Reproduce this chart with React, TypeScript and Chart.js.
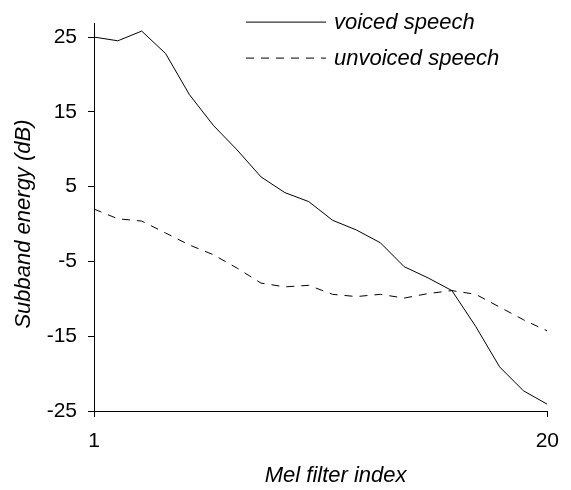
import React, { useEffect, useRef } from "react";
import { Chart, registerables } from "chart.js";

Chart.register(...registerables);

const filterIndex = [1, 2, 3, 4, 5, 6, 7, 8, 9, 10, 11, 12, 13, 14, 15, 16, 17, 18, 19, 20];
const voiced = [25.0, 24.5, 25.8, 22.8, 17.3, 13.2, 9.9, 6.3, 4.2, 3.0, 0.5, -0.8, -2.5, -5.7, -7.2, -8.9, -13.7, -19.1, -22.3, -24.1];
const unvoiced = [2.0, 0.7, 0.4, -1.2, -2.8, -4.1, -5.9, -7.9, -8.4, -8.2, -9.4, -9.7, -9.4, -9.9, -9.3, -8.9, -9.4, -11.1, -12.8, -14.3];
const yTicks = [-25, -15, -5, 5, 15, 25];
const xTicks = [1, 20];
const seriesLabels = ["voiced speech", "unvoiced speech"];
const xTitle = "Mel filter index";
const yTitle = "Subband energy (dB)";

const FONT = "'Liberation Sans', Arial, sans-serif";

const annotationPlugin = {
  id: "legendAndTitles",
  afterDraw(chart: any) {
    const { ctx, chartArea, scales } = chart;
    // legend
    const x0 = chartArea.left + 152;
    const x1 = chartArea.left + 232;
    const tx = chartArea.left + 240;
    const rows = [chartArea.top - 2, chartArea.top + 34];
    chart.data.datasets.forEach((ds: any, i: number) => {
      const y = rows[i];
      ctx.save();
      ctx.strokeStyle = "#000";
      ctx.lineWidth = 1;
      ctx.setLineDash(ds.borderDash || []);
      ctx.beginPath();
      ctx.moveTo(x0, y + 0.5);
      ctx.lineTo(x1, y + 0.5);
      ctx.stroke();
      ctx.setLineDash([]);
      ctx.fillStyle = "#000";
      ctx.font = `italic 22px ${FONT}`;
      ctx.textBaseline = "middle";
      ctx.textAlign = "left";
      ctx.fillText(ds.label, tx, y + 1);
      ctx.restore();
    });
    // axis titles
    ctx.save();
    ctx.fillStyle = "#000";
    ctx.font = `italic 22px ${FONT}`;
    ctx.textAlign = "center";
    ctx.textBaseline = "middle";
    const xc = (chartArea.left + chartArea.right) / 2 + 15;
    ctx.fillText(xTitle, xc, chartArea.bottom + 65);
    const yc = (scales.y.getPixelForValue(yTicks[0]) + scales.y.getPixelForValue(yTicks[yTicks.length - 1])) / 2;
    ctx.translate(24, yc);
    ctx.rotate(-Math.PI / 2);
    ctx.fillText(yTitle, 0, 0);
    ctx.restore();
  },
};

export default function App() {
  const ref = useRef<HTMLCanvasElement>(null);
  useEffect(() => {
    document.body.style.margin = "0";
    const chart = new Chart(ref.current!, {
      type: "line",
      data: {
        datasets: [
          {
            label: seriesLabels[0],
            data: filterIndex.map((x, i) => ({ x, y: voiced[i] })),
            borderColor: "#000",
            borderWidth: 1,
            pointRadius: 0,
            tension: 0,
            fill: false,
          },
          {
            label: seriesLabels[1],
            data: filterIndex.map((x, i) => ({ x, y: unvoiced[i] })),
            borderColor: "#000",
            borderWidth: 1,
            borderDash: [8, 7],
            pointRadius: 0,
            tension: 0,
            fill: false,
          },
        ],
      },
      options: {
        animation: false,
        responsive: false,
        maintainAspectRatio: false,
        layout: { padding: { left: 0, right: 19, top: 23, bottom: 0 } },
        plugins: { legend: { display: false }, tooltip: { enabled: false } },
        scales: {
          x: {
            type: "linear",
            min: 1,
            max: 20,
            afterBuildTicks: (s: any) => {
              s.ticks = xTicks.map((v) => ({ value: v }));
            },
            afterFit: (s: any) => {
              s.height = 79;
            },
            grid: { display: true, drawOnChartArea: false, drawTicks: true, tickLength: 6, color: "#000" },
            border: { display: true, color: "#000", width: 1 },
            ticks: { color: "#000", font: { family: FONT, size: 21 }, padding: 12, maxRotation: 0, autoSkip: false },
          },
          y: {
            type: "linear",
            min: -25,
            max: 26.8,
            afterBuildTicks: (s: any) => {
              s.ticks = yTicks.map((v) => ({ value: v }));
            },
            afterFit: (s: any) => {
              s.width = 94;
            },
            grid: { display: true, drawOnChartArea: false, drawTicks: true, tickLength: 6, color: "#000" },
            border: { display: true, color: "#000", width: 1 },
            ticks: { color: "#000", font: { family: FONT, size: 21 }, padding: 11, autoSkip: false },
          },
        },
      },
      plugins: [annotationPlugin],
    });
    return () => chart.destroy();
  }, []);
  return (
    <div style={{ position: "absolute", left: 0, top: 0, width: 571, height: 490, background: "#fff" }}>
      <canvas ref={ref} width={571} height={490} style={{ width: 571, height: 490 }} />
    </div>
  );
}
